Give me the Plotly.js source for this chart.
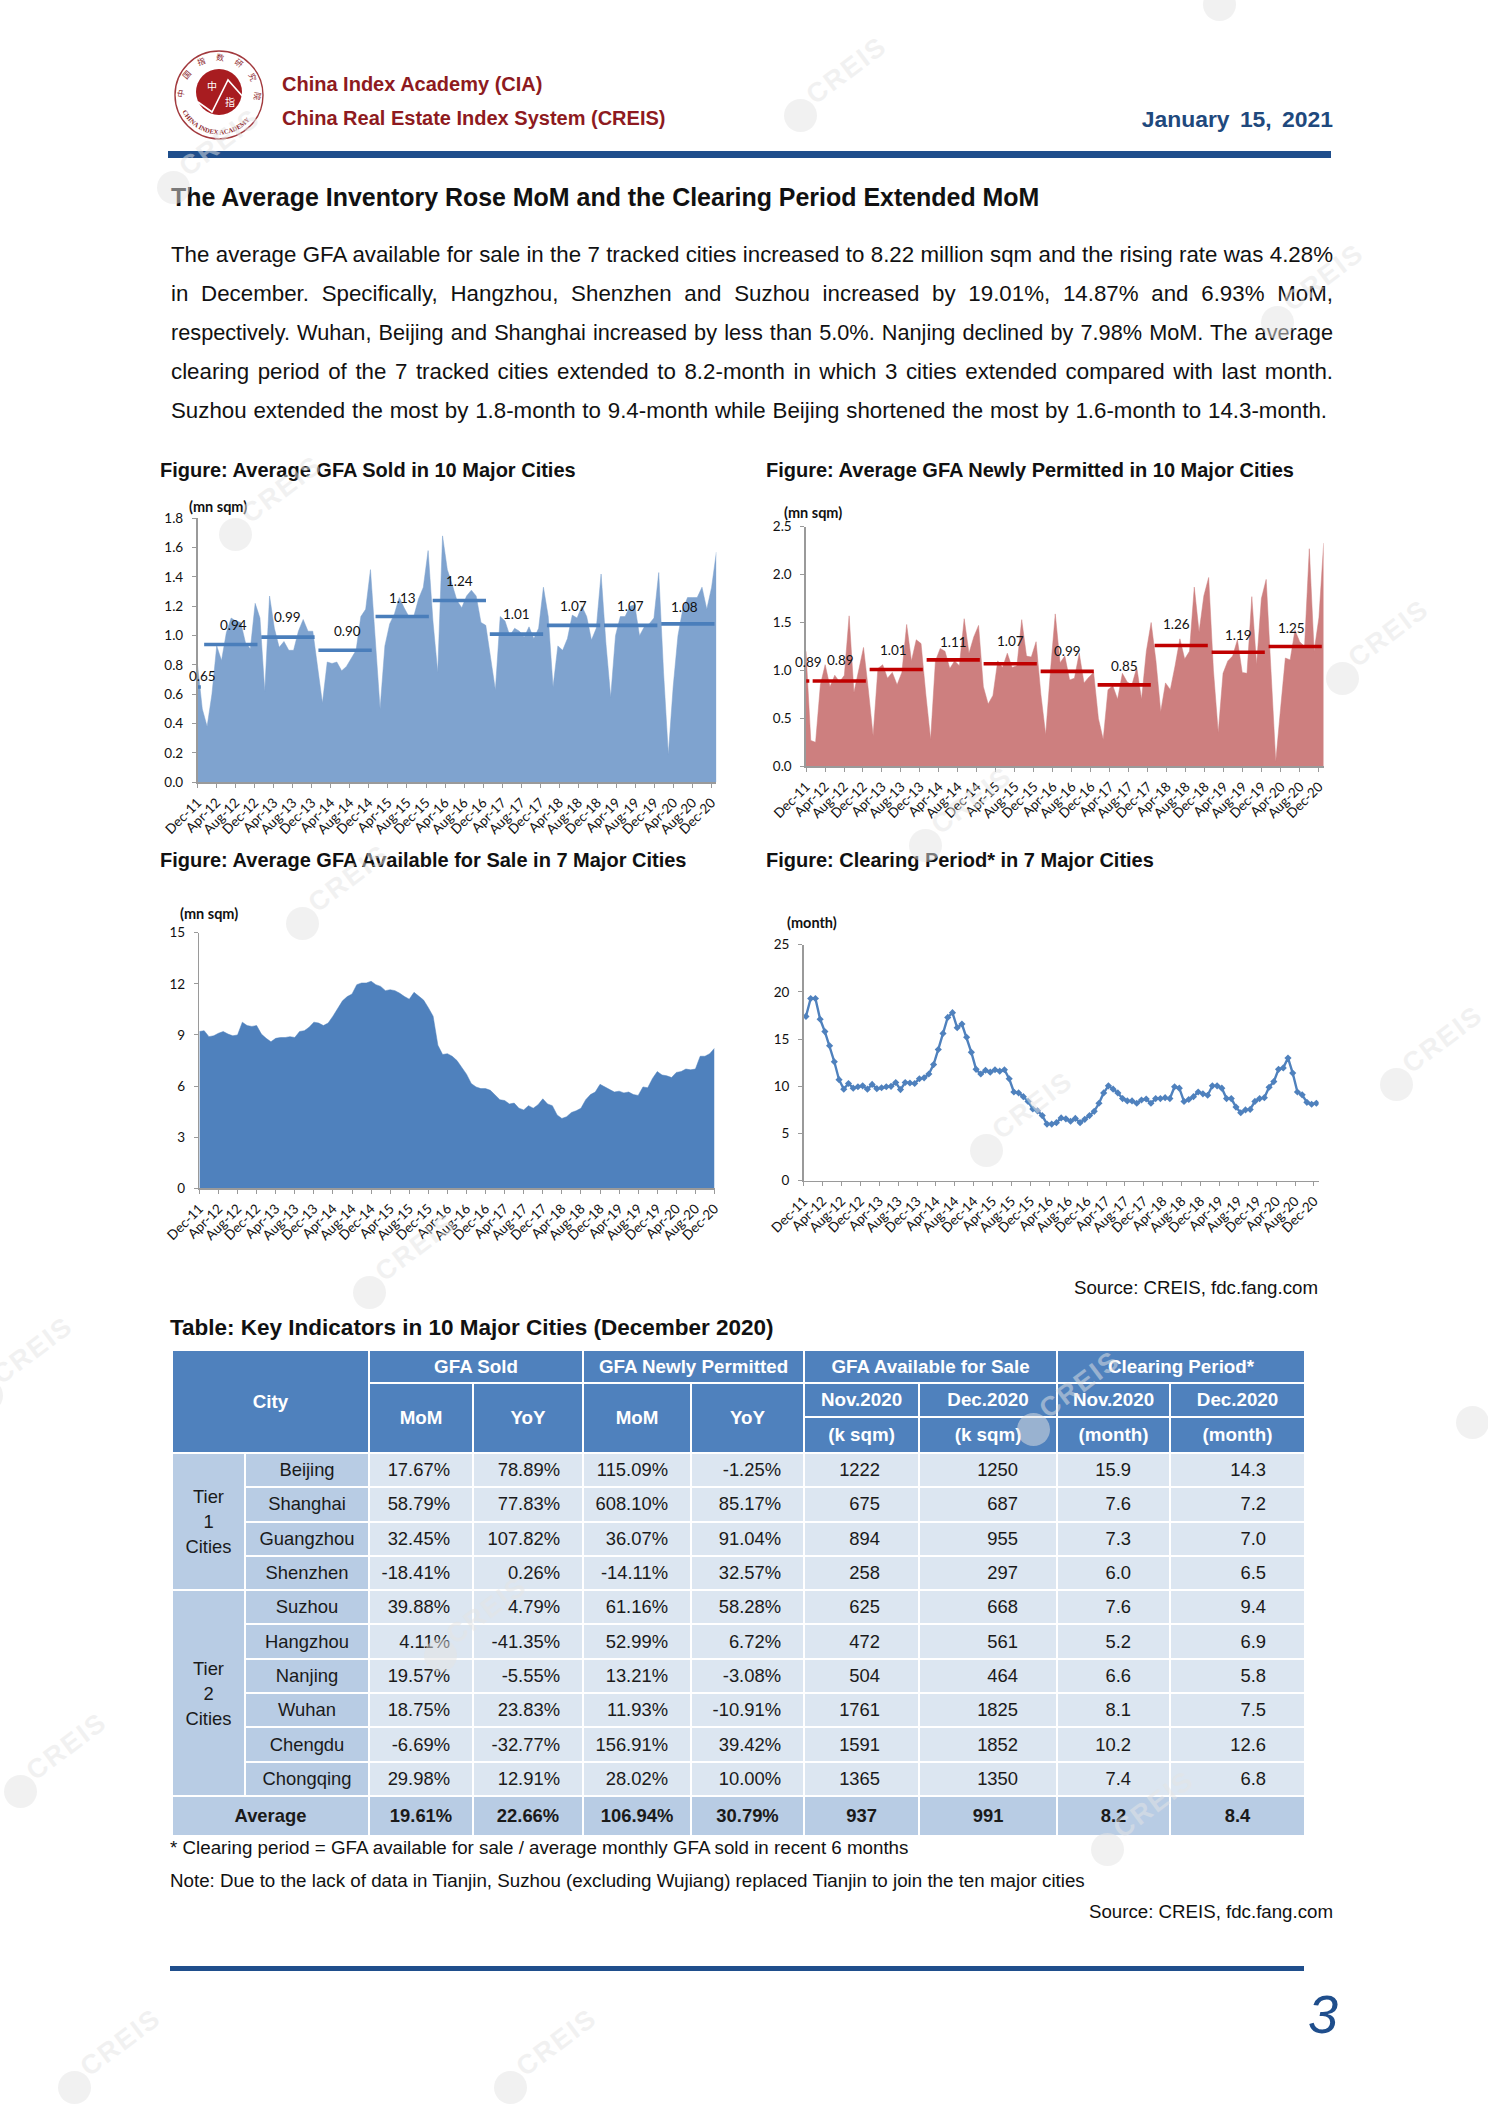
<!DOCTYPE html>
<html><head><meta charset="utf-8">
<script src="https://cdn.plot.ly/plotly-3.0.1.min.js"></script>
<style>
html,body{margin:0;padding:0;background:#fff}
#page{position:relative;width:1488px;height:2104px;overflow:hidden;font-family:"Liberation Sans",Arial,sans-serif;background:#fff}
#chart{position:absolute;left:0;top:0;width:1488px;height:2104px}
.t{position:absolute;white-space:nowrap;line-height:1;transform:translateY(-50%)}
.b{font-weight:bold}
.j{text-align:justify;text-align-last:justify;white-space:normal;width:1162px;left:171px;font-size:22.3px;color:#111}
.fig{font-size:20px;font-weight:bold;color:#111}
.bar{position:absolute;background:#1f4e8c}
table{position:absolute;left:172px;top:1350px;width:1133px;border-collapse:separate;border-spacing:0;table-layout:fixed;font-size:18.4px;color:#1a1a1a}
td{border:1.5px solid #fff;padding:0;text-align:center;vertical-align:middle;box-sizing:border-box;background:#dce6f1}
td.h{background:#4f81bd;color:#fff;font-weight:bold;font-size:18.8px}
td.c{background:#b8cce4}
td.r{text-align:right;padding-right:22px}
td.r2{text-align:right;padding-right:38px}
td.a{background:#b8cce4;font-weight:bold}
.wm{position:absolute;color:rgba(228,228,228,.5);font-weight:bold;font-size:27px;letter-spacing:2px;transform:rotate(-37deg);transform-origin:0 50%;line-height:1;z-index:5}
.wc{position:absolute;width:33px;height:33px;border-radius:50%;background:rgba(228,228,228,.5);z-index:5}
</style></head><body>
<div id="page">
<div id="chart"></div>

<svg style="position:absolute;left:170px;top:46px" width="98" height="98" viewBox="0 0 98 98">
<defs><path id="ra" d="M15 58 A35 35 0 1 1 83 58"/><path id="rb" d="M10 60 A41 41 0 0 0 88 60"/></defs>
<circle cx="49" cy="49" r="44" fill="#fff" stroke="#a23a3e" stroke-width="1.4"/>
<circle cx="49" cy="46" r="23" fill="#a81c20"/>
<polyline points="28,56 42,66 58,34 74,52" fill="none" stroke="#fff" stroke-width="1.6"/>
<text x="37" y="44" font-size="10" fill="#fff" font-family="Noto Sans CJK SC">中</text>
<text x="55" y="60" font-size="10" fill="#fff" font-family="Noto Sans CJK SC">指</text>
<text font-size="8" fill="#8e2a2e" font-family="Noto Sans CJK SC" letter-spacing="10"><textPath href="#ra" startOffset="6">中国指数研究院</textPath></text>
<text font-size="6.6" fill="#8e2a2e" font-family="Liberation Serif" font-weight="bold"><textPath href="#rb" startOffset="6">CHINA INDEX ACADEMY</textPath></text>
</svg>

<div class="t b" style="left:282px;top:84px;font-size:20px;color:#8e1a20">China Index Academy (CIA)</div>
<div class="t b" style="left:282px;top:118px;font-size:20px;color:#8e1a20">China Real Estate Index System (CREIS)</div>
<div class="t b" style="right:155px;top:119px;font-size:22.9px;color:#1f497d;word-spacing:4px">January 15, 2021</div>
<div class="bar" style="left:168px;top:151px;width:1163px;height:7px"></div>
<div class="t b" style="left:171px;top:197px;font-size:24.95px;color:#111">The Average Inventory Rose MoM and the Clearing Period Extended MoM</div>

<div class="t j" style="top:255px">The average GFA available for sale in the 7 tracked cities increased to 8.22 million sqm and the rising rate was 4.28%</div>
<div class="t j" style="top:294px">in December. Specifically, Hangzhou, Shenzhen and Suzhou increased by 19.01%, 14.87% and 6.93% MoM,</div>
<div class="t j" style="top:333px;font-size:21.7px">respectively. Wuhan, Beijing and Shanghai increased by less than 5.0%. Nanjing declined by 7.98% MoM. The average</div>
<div class="t j" style="top:372px">clearing period of the 7 tracked cities extended to 8.2-month in which 3 cities extended compared with last month.</div>
<div class="t j" style="top:411px;width:1156px">Suzhou extended the most by 1.8-month to 9.4-month while Beijing shortened the most by 1.6-month to 14.3-month.</div>

<div class="t fig" style="left:160px;top:470px">Figure: Average GFA Sold in 10 Major Cities</div>
<div class="t fig" style="left:766px;top:470px">Figure: Average GFA Newly Permitted in 10 Major Cities</div>
<div class="t fig" style="left:160px;top:860px">Figure: Average GFA Available for Sale in 7 Major Cities</div>
<div class="t fig" style="left:766px;top:860px">Figure: Clearing Period* in 7 Major Cities</div>

<div class="t" style="right:170px;top:1288px;font-size:18.7px;color:#111">Source: CREIS, fdc.fang.com</div>
<div class="t b" style="left:170px;top:1328px;font-size:22.5px;color:#111">Table: Key Indicators in 10 Major Cities (December 2020)</div>
<table id="tbl"></table>
<div class="t" style="left:170px;top:1848px;font-size:18.75px;color:#111">* Clearing period = GFA available for sale / average monthly GFA sold in recent 6 months</div>
<div class="t" style="left:170px;top:1881px;font-size:18.75px;color:#111">Note: Due to the lack of data in Tianjin, Suzhou (excluding Wujiang) replaced Tianjin to join the ten major cities</div>
<div class="t" style="right:155px;top:1912px;font-size:18.7px;color:#111">Source: CREIS, fdc.fang.com</div>
<div class="bar" style="left:170px;top:1966px;width:1134px;height:5px"></div>
<div class="t" style="left:1308px;top:2014px;font-size:54px;font-style:italic;color:#1f4e8c">3</div>
<div id="wms"></div>
</div>
<script>
const months = ["Dec-11","Jan-12","Feb-12","Mar-12","Apr-12","May-12","Jun-12","Jul-12","Aug-12","Sep-12","Oct-12","Nov-12","Dec-12",
"Jan-13","Feb-13","Mar-13","Apr-13","May-13","Jun-13","Jul-13","Aug-13","Sep-13","Oct-13","Nov-13","Dec-13",
"Jan-14","Feb-14","Mar-14","Apr-14","May-14","Jun-14","Jul-14","Aug-14","Sep-14","Oct-14","Nov-14","Dec-14",
"Jan-15","Feb-15","Mar-15","Apr-15","May-15","Jun-15","Jul-15","Aug-15","Sep-15","Oct-15","Nov-15","Dec-15",
"Jan-16","Feb-16","Mar-16","Apr-16","May-16","Jun-16","Jul-16","Aug-16","Sep-16","Oct-16","Nov-16","Dec-16",
"Jan-17","Feb-17","Mar-17","Apr-17","May-17","Jun-17","Jul-17","Aug-17","Sep-17","Oct-17","Nov-17","Dec-17",
"Jan-18","Feb-18","Mar-18","Apr-18","May-18","Jun-18","Jul-18","Aug-18","Sep-18","Oct-18","Nov-18","Dec-18",
"Jan-19","Feb-19","Mar-19","Apr-19","May-19","Jun-19","Jul-19","Aug-19","Sep-19","Oct-19","Nov-19","Dec-19",
"Jan-20","Feb-20","Mar-20","Apr-20","May-20","Jun-20","Jul-20","Aug-20","Sep-20","Oct-20","Nov-20","Dec-20"];
const sold = [.80,.50,.38,.60,.93,.83,1.02,1.12,1.10,1.09,.95,.91,1.22,1.12,.62,1.27,1.05,.92,.96,.90,.90,1.03,1.11,1.03,1.03,.78,.54,.82,.81,.82,.76,.79,.85,.90,1.13,1.18,1.45,.95,.50,.93,1.08,1.15,1.26,1.19,1.13,1.13,1.25,1.33,1.58,1.10,.75,1.68,1.45,1.35,1.24,1.19,1.27,1.31,1.27,1.09,1.07,.85,.63,1.13,1.10,1.00,1.05,1.03,.99,1.06,.98,1.05,1.33,1.13,.65,.93,.90,.98,1.14,1.12,1.20,1.13,.97,1.05,1.42,.95,.58,1.00,1.13,1.13,1.20,1.21,1.00,1.06,1.08,1.12,1.43,.75,.19,.65,1.00,1.18,1.26,1.26,1.26,1.33,1.18,1.33,1.57];
const permitted = [1.2,.27,.25,.85,1.06,.83,.95,.88,.95,1.57,.77,1.0,1.24,.8,.32,1.02,1.06,.92,.98,.85,.98,1.48,1.1,1.32,1.28,.75,.28,1.1,1.23,1.2,1.02,1.1,1.05,1.54,1.18,1.35,1.47,.83,.65,.74,1.1,1.03,1.18,1.03,1.05,1.53,1.15,1.14,1.3,.75,.33,1.0,1.59,1.08,1.15,.9,.92,1.18,.87,.93,.98,.5,.28,.8,.84,.7,.97,.88,.85,1.03,.7,1.2,1.5,1.1,.57,.87,.8,1.05,1.33,1.12,1.2,1.87,1.4,1.78,1.97,1.0,.35,.97,1.1,1.15,1.32,.98,.97,1.77,1.06,1.75,1.95,1.0,.05,.6,1.13,1.11,1.42,1.3,1.25,2.27,1.2,1.55,2.33];
const inventory = [9.2,9.25,8.9,8.95,9.1,9.2,9.05,8.95,9.0,9.75,9.55,9.5,9.55,9.05,8.8,8.6,8.8,8.85,8.85,8.9,8.85,9.2,9.25,9.45,9.75,9.7,9.55,9.7,10.1,10.55,11.0,11.25,11.4,11.95,12.05,12.05,12.15,11.95,11.85,11.6,11.65,11.6,11.45,11.25,11.1,11.5,11.3,11.05,10.6,10.1,8.4,7.85,7.9,7.75,7.5,7.1,6.7,6.15,5.95,5.85,5.85,5.75,5.5,5.2,5.15,4.95,5.0,4.7,4.6,4.85,4.7,4.9,5.25,4.95,4.85,4.3,4.1,4.2,4.45,4.55,4.7,5.2,5.5,5.65,6.1,5.95,5.8,5.65,5.7,5.6,5.65,5.5,5.45,5.95,5.9,6.45,6.85,6.65,6.6,6.5,6.8,6.85,7.0,6.95,7.0,7.75,7.75,7.9,8.22];
const clearing = [17.4,19.3,19.3,17.1,15.8,14.3,12.6,10.7,9.7,10.3,9.8,9.95,10.05,9.7,10.2,9.75,9.85,9.95,10.0,10.4,9.65,10.4,10.35,10.3,10.8,10.9,11.3,12.3,13.9,15.6,17.3,17.8,16.2,16.6,15.2,13.6,11.8,11.3,11.7,11.5,11.75,11.6,11.75,10.8,9.4,9.3,8.9,8.4,7.6,7.4,6.9,6.0,6.0,6.15,6.65,6.55,6.3,6.6,6.15,6.5,6.9,7.35,8.2,9.3,10.05,9.7,9.3,8.7,8.45,8.45,8.2,8.55,8.65,8.2,8.7,8.7,8.8,8.7,9.95,9.8,8.4,8.6,8.9,9.4,9.2,9.05,10.05,10.05,9.8,8.7,8.7,7.8,7.2,7.5,7.55,8.4,8.7,8.8,9.9,10.5,11.8,11.95,13.0,11.4,9.4,9.1,8.3,8.1,8.2];
const avgSold = [0.65,0.94,0.99,0.90,1.13,1.24,1.01,1.07,1.07,1.08];
const avgPermitted = [0.89,0.89,1.01,1.11,1.07,0.99,0.85,1.26,1.19,1.25];
const yearStart = ["Dec-11","Jan-12","Jan-13","Jan-14","Jan-15","Jan-16","Jan-17","Jan-18","Jan-19","Jan-20"];
const yearEnd = ["Dec-11","Dec-12","Dec-13","Dec-14","Dec-15","Dec-16","Dec-17","Dec-18","Dec-19","Dec-20"];
const tickLabels = ["Dec-11","Apr-12","Aug-12","Dec-12","Apr-13","Aug-13","Dec-13","Apr-14","Aug-14","Dec-14","Apr-15","Aug-15","Dec-15","Apr-16","Aug-16","Dec-16","Apr-17","Aug-17","Dec-17","Apr-18","Aug-18","Dec-18","Apr-19","Aug-19","Dec-19","Apr-20","Aug-20","Dec-20"];

const cities = ["Beijing","Shanghai","Guangzhou","Shenzhen","Suzhou","Hangzhou","Nanjing","Wuhan","Chengdu","Chongqing"];
const soldMoM = ["17.67%","58.79%","32.45%","-18.41%","39.88%","4.11%","19.57%","18.75%","-6.69%","29.98%"];
const soldYoY = ["78.89%","77.83%","107.82%","0.26%","4.79%","-41.35%","-5.55%","23.83%","-32.77%","12.91%"];
const permMoM = ["115.09%","608.10%","36.07%","-14.11%","61.16%","52.99%","13.21%","11.93%","156.91%","28.02%"];
const permYoY = ["-1.25%","85.17%","91.04%","32.57%","58.28%","6.72%","-3.08%","-10.91%","39.42%","10.00%"];
const invNov = ["1222","675","894","258","625","472","504","1761","1591","1365"];
const invDec = ["1250","687","955","297","668","561","464","1825","1852","1350"];
const clrNov = ["15.9","7.6","7.3","6.0","7.6","5.2","6.6","8.1","10.2","7.4"];
const clrDec = ["14.3","7.2","7.0","6.5","9.4","6.9","5.8","7.5","12.6","6.8"];
const averageRow = ["19.61%","22.66%","106.94%","30.79%","937","991","8.2","8.4"];

const W=1488,H=2104;
const idx = m => months.indexOf(m);
const mi = months.map((m,i)=>i);
const tickvals = tickLabels.map(idx);
const axisFont = {family:'Lato, sans-serif',size:13.5,color:'#111'};
const axisColor = '#9a9a9a';
const dom = (a,b,s)=>[a/s,b/s];
const layout = {width:W,height:H,margin:{l:0,r:0,t:0,b:0,pad:0},paper_bgcolor:'rgba(0,0,0,0)',plot_bgcolor:'rgba(0,0,0,0)',showlegend:false,annotations:[],hovermode:false};
const traces = [];
function xax(n,l,r,range,shown,shift,bottomAnchor){
  const o={domain:dom(l,r,W),range:range,anchor:bottomAnchor,type:'linear',showgrid:false,zeroline:false,fixedrange:true};
  if(shown){Object.assign(o,{tickmode:'array',tickvals:tickvals.map(v=>v+shift),ticktext:tickLabels,tickangle:-45,ticks:'outside',ticklen:4,tickcolor:axisColor,showline:true,linecolor:axisColor,linewidth:1.2,tickfont:axisFont,ticklabelstandoff:2});}
  else{Object.assign(o,{visible:false});}
  layout['xaxis'+n]=o;
}
function yax(n,t,b,range,dtick,fmt,anchor){
  layout['yaxis'+n]={domain:[1-b/H,1-t/H],range:range,dtick:dtick,tick0:0,tickformat:fmt,anchor:anchor,ticks:'outside',ticklen:4,tickcolor:axisColor,showline:true,linecolor:axisColor,linewidth:1.6,showgrid:false,zeroline:false,tickfont:axisFont,ticklabelstandoff:6,fixedrange:true};
}
function unit(txt,x,y){layout.annotations.push({text:'<b>'+txt+'</b>',xref:'paper',yref:'paper',x:x/W,y:1-y/H,xanchor:'left',yanchor:'middle',showarrow:false,font:{family:'Lato, sans-serif',size:14.5,color:'#111'}});}
function bars(avg,color,xa,ya,shifts,dx){
  avg.forEach((v,k)=>{
    let a=idx(yearStart[k]),b=idx(yearEnd[k]);
    const xs = a===b ? [a-0.45,a+0.2] : [a-0.1,b+0.1];
    traces.push({type:'scatter',mode:'lines',x:xs,y:[v,v],xaxis:xa,yaxis:ya,line:{color:color,width:3.6},cliponaxis:true});
    layout.annotations.push({text:v.toFixed(2),xref:xa,yref:ya,x:(a+b)/2+dx[k],y:v,yshift:shifts[k],xanchor:'center',yanchor:'middle',showarrow:false,font:{family:'Lato, sans-serif',size:13.5,color:'#111'}});
  });
}

// chart 1: sold
xax('',197.5,716.4,[0,108],false,0,'y');
xax(5,197.5,716.4,[-0.5,108.5],true,-0.5,'y');
layout.xaxis5.overlaying='x';
yax('',518.3,782.3,[0,1.8],0.2,'.1f','x');
traces.push({type:'scatter',mode:'lines',x:mi,y:sold,xaxis:'x',yaxis:'y',fill:'tozeroy',fillcolor:'#7fa3cf',line:{color:'#7fa3cf',width:0.5}});
bars(avgSold,'#4a7ebb','x5','y',[11,19,20,19,19,19,20,19,19,17],[0.6,0.5,0,0.5,0,0,0,0,0,-0.8]);
unit('(mn sqm)',187,507);

// chart 2: permitted
xax(2,806,1323.7,[0,108],false,0,'y2');
xax(6,806,1323.7,[-0.5,108.5],true,-0.5,'y2');
layout.xaxis6.overlaying='x2';
yax(2,526.7,766.3,[0,2.5],0.5,'.1f','x2');
traces.push({type:'scatter',mode:'lines',x:mi,y:permitted,xaxis:'x2',yaxis:'y2',fill:'tozeroy',fillcolor:'#cd7f7f',line:{color:'#cd7f7f',width:0.5}});
bars(avgPermitted,'#c00000','x6','y2',[19,21,20,18,23,20,19,22,17,19],[0,0.3,-0.5,0,0,0,0,-1,0,-0.8]);
unit('(mn sqm)',782,513);

// chart 3: inventory
xax(3,199.4,714.5,[0,108],true,0,'y3');
yax(3,932.7,1188.3,[0,15],3,'d','x3');
traces.push({type:'scatter',mode:'lines',x:mi,y:inventory,xaxis:'x3',yaxis:'y3',fill:'tozeroy',fillcolor:'#4f81bd',line:{color:'#4f81bd',width:0.5}});
unit('(mn sqm)',178,913);

// chart 4: clearing period
xax(4,803.6,1318.7,[-0.5,108.5],true,-0.5,'y4');
yax(4,944.7,1180.7,[0,25],5,'d','x4');
traces.push({type:'scatter',mode:'lines+markers',x:mi,y:clearing,xaxis:'x4',yaxis:'y4',line:{color:'#4f81bd',width:2.4},marker:{symbol:'diamond',size:5.5,color:'#4f81bd'}});
unit('(month)',785,922);

Plotly.newPlot('chart',traces,layout,{staticPlot:true,displayModeBar:false});

// table
const colW=[73,124,104,110,108,113,115,138,113,135];
let html='<colgroup>'+colW.map(w=>'<col style="width:'+w+'px">').join('')+'</colgroup>';
html+='<tr style="height:33px"><td class="h" colspan="2" rowspan="3">City</td><td class="h" colspan="2">GFA Sold</td><td class="h" colspan="2">GFA Newly Permitted</td><td class="h" colspan="2">GFA Available for Sale</td><td class="h" colspan="2">Clearing Period*</td></tr>';
html+='<tr style="height:34px"><td class="h" rowspan="2">MoM</td><td class="h" rowspan="2">YoY</td><td class="h" rowspan="2">MoM</td><td class="h" rowspan="2">YoY</td><td class="h">Nov.2020</td><td class="h">Dec.2020</td><td class="h">Nov.2020</td><td class="h">Dec.2020</td></tr>';
html+='<tr style="height:36px"><td class="h">(k sqm)</td><td class="h">(k sqm)</td><td class="h">(month)</td><td class="h">(month)</td></tr>';
cities.forEach((c,i)=>{
  html+='<tr style="height:34.3px">';
  if(i===0) html+='<td class="c" rowspan="4" style="line-height:25px">Tier<br>1<br>Cities</td>';
  if(i===4) html+='<td class="c" rowspan="6" style="line-height:25px">Tier<br>2<br>Cities</td>';
  html+='<td class="c">'+c+'</td>';
  [soldMoM,soldYoY,permMoM,permYoY].forEach(a=>html+='<td class="r">'+a[i]+'</td>');
  [invNov,invDec,clrNov,clrDec].forEach(a=>html+='<td class="r2">'+a[i]+'</td>');
  html+='</tr>';
});
html+='<tr style="height:40px"><td class="a" colspan="2">Average</td>'+averageRow.map(v=>'<td class="a">'+v+'</td>').join('')+'</tr>';
document.getElementById('tbl').innerHTML=html;

// watermarks: circle centre x,y and whether the word fits on the page
const wmSpots=[[800,115,1],[235,534,1],[1277,322,1],[1342,678,1],[302,923,1],[1396,1084,1],[986,1150,1],[369,1292,1],[1033,1429,1],[1472,1422,0],[20,1791,1],[74,2087,1],[510,2087,1],[-14,1395,1],[173,187,1],[925,845,1],[1107,1849,1],[1219,4,0],[440,1655,1]];
document.getElementById('wms').innerHTML=wmSpots.map(p=>'<div class="wc" style="left:'+(p[0]-16)+'px;top:'+(p[1]-16)+'px"></div>'+(p[2]?'<div class="wm" style="left:'+(p[0]+10)+'px;top:'+(p[1]-30)+'px">CREIS</div>':'')).join('');
</script>
</body></html>
